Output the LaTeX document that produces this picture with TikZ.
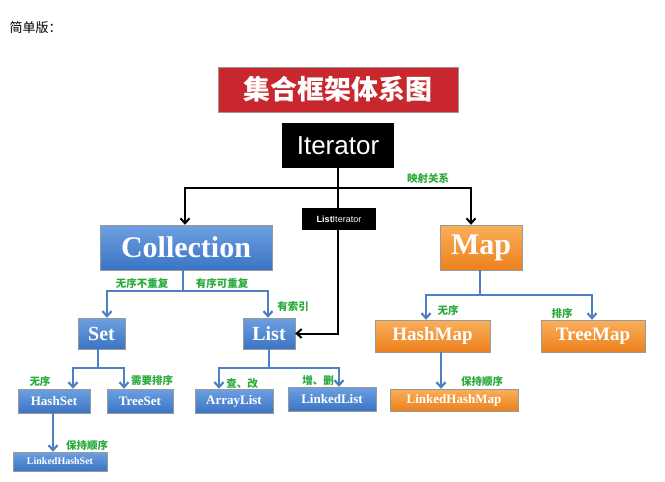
\documentclass[tikz,border=0pt]{standalone}
\usepackage{fontspec}
\setmainfont{Liberation Serif}
\newfontfamily\cjk{Noto Sans CJK SC}
\newfontfamily\sanslat{Liberation Sans}
\usetikzlibrary{arrows.meta,positioning}
\definecolor{boxblue}{RGB}{58,116,196}
\definecolor{boxblue2}{RGB}{110,160,225}
\definecolor{boxorange}{RGB}{236,128,30}
\definecolor{boxorange2}{RGB}{250,175,90}
\definecolor{boxred}{RGB}{200,40,45}
\definecolor{linkblue}{RGB}{80,128,196}
\definecolor{notegreen}{RGB}{40,170,60}
\tikzset{
  jbox/.style={text=white, font=\bfseries, inner sep=0pt, draw=black!40},
  bluebox/.style={jbox, top color=boxblue2, bottom color=boxblue},
  orangebox/.style={jbox, top color=boxorange2, bottom color=boxorange},
  blackbox/.style={fill=black, text=white, inner sep=0pt},
  note/.style={text=notegreen, font=\cjk\bfseries\fontsize{10.5}{10.5}\selectfont, inner sep=1pt},
  blink/.style={draw=linkblue, line width=2.2pt, -{Straight Barb[length=5pt,width=9pt]}},
  klink/.style={draw=black, line width=2pt, -{Straight Barb[length=5pt,width=9pt]}}
}
\newcommand{\boxat}[6]{% style, name, x1, y1, x2, y2
  \node[#1, minimum width=#5pt-#3pt, minimum height=#6pt-#4pt] (#2) at ({(#3+#5)/2},{(#4+#6)/2})}
\begin{document}
\begin{tikzpicture}[x=1pt, y=-1pt]
  \useasboundingbox (0,0) rectangle (665,482);
  \node[anchor=west, font=\cjk\fontsize{13}{13}\selectfont] (head) at (6,28) {简单版：};
  % title and root
  \boxat{jbox, fill=boxred, font=\cjk\bfseries\fontsize{27}{27}\selectfont}{title}{218}{67}{458}{112} {集合框架体系图};
  \boxat{blackbox, font=\sanslat\fontsize{26}{26}\selectfont}{iter}{282}{123}{394}{168} {Iterator};
  \boxat{blackbox, font=\sanslat\fontsize{9}{9}\selectfont}{listit}{302}{208}{376}{230} {\textbf{List}Iterator};
  % collection side
  \boxat{bluebox, font=\bfseries\fontsize{30}{30}\selectfont}{coll}{100}{225}{272}{270} {Collection};
  \boxat{bluebox, font=\bfseries\fontsize{20}{20}\selectfont}{set}{78}{318}{125}{349} {Set};
  \boxat{bluebox, font=\bfseries\fontsize{20}{20}\selectfont}{list}{243}{318}{295}{349} {List};
  \boxat{bluebox, font=\bfseries\fontsize{13}{13}\selectfont}{hset}{18}{389}{90}{413} {HashSet};
  \boxat{bluebox, font=\bfseries\fontsize{13}{13}\selectfont}{tset}{107}{389}{173}{413} {TreeSet};
  \boxat{bluebox, font=\bfseries\fontsize{13}{13}\selectfont}{alist}{195}{389}{273}{413} {ArrayList};
  \boxat{bluebox, font=\bfseries\fontsize{13}{13}\selectfont}{llist}{288}{387}{376}{411} {LinkedList};
  \boxat{bluebox, font=\bfseries\fontsize{10}{10}\selectfont}{lhset}{13}{452}{107}{471} {LinkedHashSet};
  % map side
  \boxat{orangebox, font=\bfseries\fontsize{30}{30}\selectfont}{map}{440}{225}{522}{270} {Map};
  \boxat{orangebox, font=\bfseries\fontsize{19}{19}\selectfont}{hmap}{375}{320}{490}{352} {HashMap};
  \boxat{orangebox, font=\bfseries\fontsize{19}{19}\selectfont}{tmap}{541}{320}{645}{352} {TreeMap};
  \boxat{orangebox, font=\bfseries\fontsize{13}{13}\selectfont}{lhmap}{390}{389}{518}{411} {LinkedHashMap};
  % iterator links
  \coordinate (ibar) at (338,188);
  \draw[klink] (iter.south) -- (ibar) -| (coll.north -| 185,0);
  \draw[klink] (ibar) -| (map.north -| 471,0);
  \draw[black, line width=2pt] (ibar) -- (listit.north -| ibar);
  \draw[klink] (listit.south -| ibar) |- (list.east);
  \node[note] (mapnote) at (428,178) {映射关系};
  % collection links
  \coordinate (cbar) at (183,291);
  \draw[linkblue, line width=2.2pt] (coll.south -| cbar) -- (cbar);
  \draw[blink] (cbar) -| (set.north -| 107,0);
  \draw[blink] (cbar) -| (list.north -| 268,0);
  \node[note] (n1) at (142,283) {无序不重复};
  \node[note] (n2) at (222,283) {有序可重复};
  \node[note] (n3) at (293,307) {有索引};
  % set links
  \coordinate (sbar) at (98,368);
  \draw[linkblue, line width=2.2pt] (set.south -| sbar) -- (sbar);
  \draw[blink] (sbar) -| (hset.north -| 73,0);
  \draw[blink] (sbar) -| (tset.north -| 124,0);
  \node[note] (n4) at (40,381) {无序};
  \node[note] (n5) at (152,380) {需要排序};
  \draw[blink] (hset.south -| 53,0) -- (lhset.north -| 53,0);
  \node[note] (n6) at (87,445) {保持顺序};
  % list links
  \coordinate (lbar) at (269,368);
  \draw[linkblue, line width=2.2pt] (list.south -| lbar) -- (lbar);
  \draw[blink] (lbar) -| (alist.north -| 219,0);
  \draw[blink] (lbar) -| (llist.north -| 339,0);
  \node[note] (n7) at (242,384) {查、改};
  \node[note] (n8) at (318,381) {增、删};
  % map links
  \coordinate (mbar) at (480,295);
  \draw[linkblue, line width=2.2pt] (map.south -| mbar) -- (mbar);
  \draw[blink] (mbar) -| (hmap.north -| 426,0);
  \draw[blink] (mbar) -| (tmap.north -| 592,0);
  \node[note] (n9) at (448,310) {无序};
  \node[note] (n10) at (562,313) {排序};
  \draw[blink] (hmap.south -| 441,0) -- (lhmap.north -| 441,0);
  \node[note] (n11) at (482,381) {保持顺序};
\end{tikzpicture}
\end{document}
